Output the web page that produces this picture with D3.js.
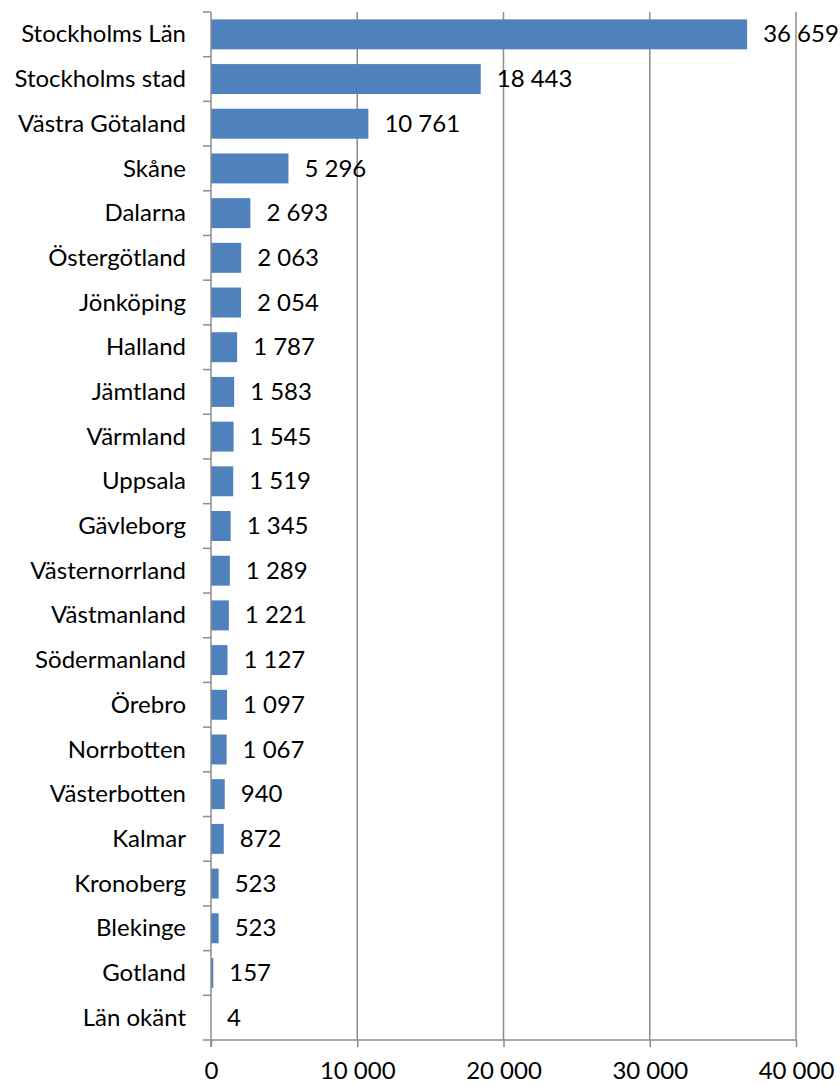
<!DOCTYPE html>
<html lang="sv">
<head>
<meta charset="UTF-8">
<title>Län</title>
<script src="https://d3js.org/d3.v7.min.js"></script>
<style>
  body { margin: 0; background: #fff; }
  text { font-family: Lato, "Open Sans", sans-serif; fill: #000; }
</style>
</head>
<body>
<div id="wrapper"></div>
<script>
// data
const regions = ["Stockholms Län", "Stockholms stad", "Västra Götaland", "Skåne", "Dalarna",
  "Östergötland", "Jönköping", "Halland", "Jämtland", "Värmland", "Uppsala", "Gävleborg",
  "Västernorrland", "Västmanland", "Södermanland", "Örebro", "Norrbotten", "Västerbotten",
  "Kalmar", "Kronoberg", "Blekinge", "Gotland", "Län okänt"];
const counts = [36659, 18443, 10761, 5296, 2693, 2063, 2054, 1787, 1583, 1545, 1519, 1345,
  1289, 1221, 1127, 1097, 1067, 940, 872, 523, 523, 157, 4];
const xTicks = [0, 10000, 20000, 30000, 40000];

const W = 840, H = 1085;
const margin = {top: 12, right: 44, bottom: 45, left: 211};
const width = W - margin.left - margin.right,
      height = H - margin.top - margin.bottom;

const sv = d3.formatLocale({decimal: ",", thousands: " ", grouping: [3], currency: ["", " kr"]});
const fmt = sv.format(",d");

const svg = d3.select("#wrapper").append("svg")
  .attr("width", W).attr("height", H)
  .append("g")
  .attr("transform", `translate(${margin.left},${margin.top})`);

const x = d3.scaleLinear().domain([0, 40000]).range([0, width]);
const y = d3.scaleBand().domain(regions).range([0, height]).paddingInner(0.33).paddingOuter(0.165);

// vertical gridlines
svg.append("g")
  .selectAll("line")
  .data(xTicks.slice(1))
  .join("line")
    .attr("x1", d => x(d)).attr("x2", d => x(d))
    .attr("y1", 0).attr("y2", height)
    .attr("stroke", "#8c8c8c").attr("stroke-width", 1.5);

// bars
svg.append("g")
  .selectAll("rect")
  .data(regions)
  .join("rect")
    .attr("x", 0)
    .attr("y", d => y(d))
    .attr("width", (d, i) => x(counts[i]))
    .attr("height", y.bandwidth())
    .attr("fill", "#4f81bd");

// value labels
svg.append("g")
  .selectAll("text")
  .data(regions)
  .join("text")
    .attr("x", (d, i) => x(counts[i]) + 16)
    .attr("y", d => y(d) + y.bandwidth() / 2 + 2)
    .attr("dominant-baseline", "middle")
    .style("font-size", "24px")
    .text((d, i) => fmt(counts[i]));

// x axis
const xAxis = svg.append("g")
  .attr("transform", `translate(0,${height})`)
  .call(d3.axisBottom(x).tickValues(xTicks).tickFormat(fmt).tickSize(7).tickPadding(15));
xAxis.selectAll("line, path").attr("stroke", "#8c8c8c").attr("stroke-width", 1.5);
xAxis.select(".domain").attr("d", `M0,0H${width}`);
xAxis.selectAll("text").style("font-size", "24px").attr("font-family", null);

// y axis: category labels, tick marks between bands
const yAxis = svg.append("g");
yAxis.append("line")
  .attr("x1", 0).attr("x2", 0).attr("y1", 0).attr("y2", height + 7)
  .attr("stroke", "#8c8c8c").attr("stroke-width", 1.5);
yAxis.selectAll("line.tick")
  .data(d3.range(regions.length + 1))
  .join("line")
    .attr("class", "tick")
    .attr("x1", -8).attr("x2", 0)
    .attr("y1", i => i * height / regions.length)
    .attr("y2", i => i * height / regions.length)
    .attr("stroke", "#8c8c8c").attr("stroke-width", 1.5);
yAxis.selectAll("text")
  .data(regions)
  .join("text")
    .attr("x", -25)
    .attr("y", d => y(d) + y.bandwidth() / 2 + 2)
    .attr("text-anchor", "end")
    .attr("dominant-baseline", "middle")
    .style("font-size", "24px")
    .text(d => d);
</script>
</body>
</html>
